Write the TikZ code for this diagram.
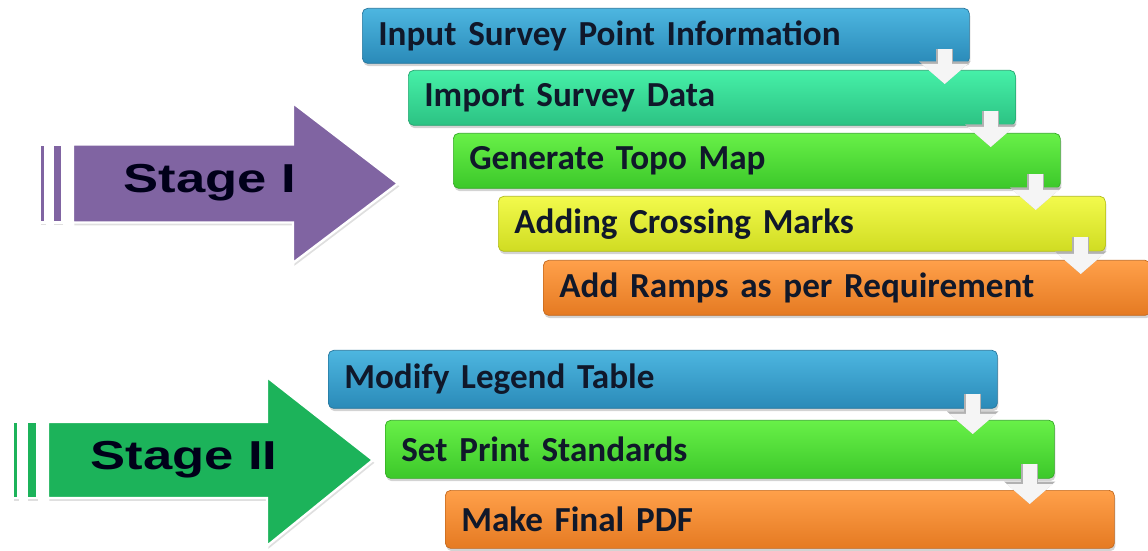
\documentclass[tikz,border=0pt]{standalone}
\usepackage{fontspec}
\newfontfamily\boxfont{Carlito}
\newfontfamily\stagefont{Liberation Sans}
\usetikzlibrary{arrows.meta,shadows,calc}

% block arrow from one step box down into the next
\newcommand{\stepdown}[2]{%
  \draw[down arrow] ($(#1.south east)+(-0.5,0.3)$) -- ($(#1.south east |- #2.north)+(-0.5,-0.28)$);}

\begin{document}
\begin{tikzpicture}[scale = 1]
  \definecolor{stagepurple}{HTML}{8064A2}
  \definecolor{stagegreen}{HTML}{1CB35A}
  \definecolor{boxtext}{HTML}{10182A}
  \definecolor{bluetop}{HTML}{4DB6E0}   \definecolor{bluebot}{HTML}{2A8AB8}
  \definecolor{tealtop}{HTML}{46F0A8}   \definecolor{tealbot}{HTML}{2CC283}
  \definecolor{greentop}{HTML}{68F048}  \definecolor{greenbot}{HTML}{3CC82A}
  \definecolor{yellowtop}{HTML}{F2FA4C} \definecolor{yellowbot}{HTML}{D0DC22}
  \definecolor{orangetop}{HTML}{FFA04A} \definecolor{orangebot}{HTML}{E57A22}
  \tikzstyle{step box}=[rectangle, rounded corners=3pt, anchor=north west, align=left,
    inner xsep=0.32cm, minimum height=1.1cm, text=boxtext,
    font=\boxfont\bfseries\fontsize{20}{24}\selectfont,
    drop shadow={shadow xshift=0.6pt, shadow yshift=-1.6pt, opacity=0.35}]
  \tikzstyle{stage arrow}=[draw=white, line width=1.4pt, line join=miter,
    drop shadow={shadow xshift=0.8pt, shadow yshift=-1.6pt, opacity=0.25}]
  \tikzstyle{stage label}=[font=\stagefont\bfseries\fontsize{23}{27}\selectfont, text=black!90!blue]
  \tikzstyle{down arrow}=[draw=white!96!black, line width=0.28cm, -{Triangle[width=0.9cm,length=0.4cm]},
    preaction={draw=black!30, line width=0.34cm, -{Triangle[width=1.0cm,length=0.45cm]}}]

  \useasboundingbox (0,0) rectangle (22.96,11);

  %% Stage I
  \fill[stage arrow, fill=stagepurple] (0.80,6.55) rectangle (0.90,8.11);
  \fill[stage arrow, fill=stagepurple] (1.06,6.55) rectangle (1.24,8.11);
  \filldraw[stage arrow, fill=stagepurple] (1.46,6.55) -- (5.86,6.55) -- (5.86,5.74) -- (7.96,7.33)
    -- (5.86,8.94) -- (5.86,8.11) -- (1.46,8.11) -- cycle;
  \node[stage label](stageone) at (4.2,7.34) {\scalebox{1.3}[1]{Stage I}};

  \node[step box, text width=11.5cm, top color=bluetop, bottom color=bluebot, draw=bluebot!85!black]
    (survey) at (7.24,10.84) {Input Survey Point Information};
  \node[step box, text width=11.5cm, top color=tealtop, bottom color=tealbot, draw=tealbot!85!black]
    (import) at (8.16,9.60) {Import Survey Data};
  \node[step box, text width=11.5cm, top color=greentop, bottom color=greenbot, draw=greenbot!85!black]
    (topo) at (9.06,8.34) {Generate Topo Map};
  \node[step box, text width=11.5cm, top color=yellowtop, bottom color=yellowbot, draw=yellowbot!85!black]
    (crossing) at (9.96,7.08) {Adding Crossing Marks};
  \node[step box, text width=11.5cm, top color=orangetop, bottom color=orangebot, draw=orangebot!85!black]
    (ramps) at (10.86,5.80) {Add Ramps as per Requirement};

  \stepdown{survey}{import}
  \stepdown{import}{topo}
  \stepdown{topo}{crossing}
  \stepdown{crossing}{ramps}

  %% Stage II
  \fill[stage arrow, fill=stagegreen] (0.26,1.04) rectangle (0.36,2.56);
  \fill[stage arrow, fill=stagegreen] (0.54,1.04) rectangle (0.74,2.56);
  \filldraw[stage arrow, fill=stagegreen] (0.96,1.04) -- (5.34,1.04) -- (5.34,0.08) -- (7.46,1.8)
    -- (5.34,3.46) -- (5.34,2.56) -- (0.96,2.56) -- cycle;
  \node[stage label](stagetwo) at (3.68,1.8) {\scalebox{1.3}[1]{Stage II}};

  \node[step box, text width=12.74cm, minimum height=1.16cm, top color=bluetop, bottom color=bluebot, draw=bluebot!85!black]
    (legend) at (6.56,4.00) {Modify Legend Table};
  \node[step box, text width=12.74cm, minimum height=1.16cm, top color=greentop, bottom color=greenbot, draw=greenbot!85!black]
    (print) at (7.70,2.60) {Set Print Standards};
  \node[step box, text width=12.74cm, minimum height=1.16cm, top color=orangetop, bottom color=orangebot, draw=orangebot!85!black]
    (pdf) at (8.90,1.20) {Make Final PDF};

  \stepdown{legend}{print}
  \stepdown{print}{pdf}

\end{tikzpicture}
\end{document}
